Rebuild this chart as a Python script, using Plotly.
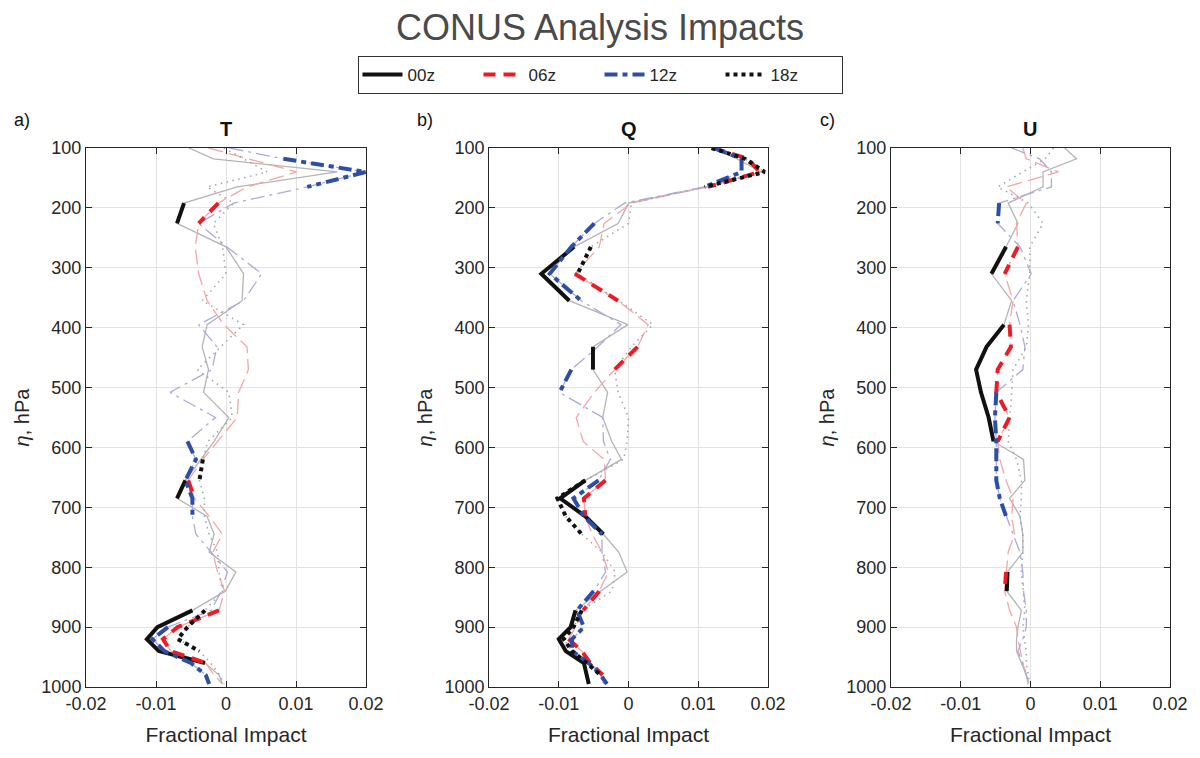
import plotly.graph_objects as go

# ---------------- data ----------------
LEVELS = [100, 118, 140, 165, 192, 226, 265, 310, 355, 395, 432, 470, 508, 550, 590,
          620, 655, 685, 715, 745, 775, 808, 840, 872, 900, 920, 940, 960, 980, 995]

SERIES = ["00z", "06z", "12z", "18z"]
PANEL_TITLES = ["T", "Q", "U"]
PANEL_LETTERS = ["a)", "b)", "c)"]
X_TICKS = [-0.02, -0.01, 0, 0.01, 0.02]
X_TICK_TEXT = ["-0.02", "-0.01", "0", "0.01", "0.02"]
Y_TICKS = [100, 200, 300, 400, 500, 600, 700, 800, 900, 1000]

# --- T ---
T_00Z = [-0.0053, -0.0018, 0.0159, 0.0016, -0.0060, -0.0070, 0.0000, 0.0025, 0.0023, -0.0027,
         -0.0034, -0.0025, -0.0032, 0.0004, -0.0017, -0.0036, -0.0058, -0.0070, -0.0027, -0.0017,
         -0.0024, 0.0014, -0.0001, -0.0048, -0.0098, -0.0113, -0.0096, -0.0030, -0.0010, -0.0005]
T_06Z = [-0.0025, 0.0031, 0.0101, 0.0030, -0.0011, -0.0039, -0.0044, -0.0039, -0.0027, -0.0003,
         0.0030, 0.0032, 0.0018, 0.0016, -0.0012, -0.0033, -0.0054, -0.0045, -0.0024, -0.0005,
         -0.0019, -0.0012, -0.0002, -0.0010, -0.0069, -0.0090, -0.0079, -0.0029, -0.0017, -0.0005]
T_12Z = [0.0005, 0.0082, 0.0200, 0.0116, 0.0011, -0.0039, 0.0001, 0.0051, 0.0025, -0.0039,
         -0.0013, -0.0020, -0.0080, -0.0015, -0.0055, -0.0043, -0.0058, -0.0048, -0.0048, -0.0043,
         -0.0021, 0.0002, -0.0007, -0.0021, -0.0083, -0.0105, -0.0088, -0.0050, -0.0029, -0.0024]
T_18Z = [-0.0003, 0.0025, 0.0059, -0.0027, 0.0011, -0.0018, -0.0005, 0.0000, -0.0034, 0.0025,
         -0.0008, -0.0041, 0.0004, 0.0009, -0.0026, -0.0033, -0.0038, -0.0031, -0.0031, -0.0024,
         -0.0012, -0.0010, -0.0005, -0.0030, -0.0055, -0.0069, -0.0038, -0.0022, -0.0009, -0.0003]
T_00Z_SIG = [0, 0, 0, 0, 1, 1, 0, 0, 0, 0, 0, 0, 0, 0, 0, 0, 1, 1, 0, 0, 0, 0, 0, 1, 1, 1, 1, 1, 0, 0]
T_06Z_SIG = [0, 0, 0, 0, 1, 1, 0, 0, 0, 0, 0, 0, 0, 0, 0, 0, 1, 1, 0, 0, 0, 0, 0, 1, 1, 1, 1, 1, 0, 0]
T_12Z_SIG = [0, 1, 1, 1, 0, 0, 0, 0, 0, 0, 0, 0, 0, 0, 1, 1, 1, 1, 1, 0, 0, 0, 0, 0, 1, 1, 1, 1, 1, 1]
T_18Z_SIG = [0, 0, 0, 0, 0, 0, 0, 0, 0, 0, 0, 0, 0, 0, 0, 1, 1, 0, 0, 0, 0, 0, 0, 1, 1, 1, 1, 0, 0, 0]

# --- Q ---
Q_00Z = [0.0121, 0.0155, 0.0190, 0.0111, 0.0000, -0.0015, -0.0078, -0.0125, -0.0085, -0.0001,
         -0.0051, -0.0051, -0.0030, -0.0037, -0.0024, -0.0010, -0.0062, -0.0098, -0.0062, -0.0036,
         -0.0014, -0.0002, -0.0040, -0.0076, -0.0083, -0.0100, -0.0090, -0.0064, -0.0060, -0.0057]
Q_06Z = [0.0121, 0.0171, 0.0188, 0.0114, 0.0004, -0.0035, -0.0042, -0.0077, -0.0015, 0.0028,
         0.0013, -0.0020, -0.0049, -0.0075, -0.0065, -0.0035, -0.0033, -0.0064, -0.0062, -0.0052,
         -0.0038, -0.0029, -0.0042, -0.0065, -0.0076, -0.0086, -0.0067, -0.0055, -0.0037, -0.0036]
Q_12Z = [0.0123, 0.0162, 0.0162, 0.0109, -0.0006, -0.0049, -0.0082, -0.0113, -0.0068, -0.0011,
         -0.0044, -0.0082, -0.0099, -0.0037, -0.0036, -0.0026, -0.0043, -0.0079, -0.0064, -0.0038,
         -0.0038, -0.0033, -0.0050, -0.0074, -0.0064, -0.0081, -0.0081, -0.0057, -0.0040, -0.0031]
Q_18Z = [0.0119, 0.0167, 0.0195, 0.0109, 0.0004, 0.0000, -0.0054, -0.0073, -0.0014, 0.0035,
         0.0004, -0.0020, -0.0015, 0.0000, -0.0002, -0.0007, -0.0062, -0.0102, -0.0090, -0.0067,
         -0.0038, -0.0019, -0.0024, -0.0067, -0.0079, -0.0093, -0.0081, -0.0060, -0.0040, -0.0033]
Q_00Z_SIG = [0, 0, 0, 0, 0, 0, 1, 1, 1, 0, 1, 1, 0, 0, 0, 0, 1, 1, 1, 1, 0, 0, 0, 1, 1, 1, 1, 1, 1, 1]
Q_06Z_SIG = [1, 1, 1, 1, 0, 0, 0, 1, 1, 0, 1, 1, 0, 0, 0, 0, 1, 1, 1, 0, 0, 0, 1, 1, 0, 1, 1, 1, 1, 0]
Q_12Z_SIG = [1, 1, 1, 1, 0, 1, 1, 1, 1, 0, 0, 1, 1, 0, 0, 0, 1, 1, 1, 1, 0, 0, 1, 1, 1, 1, 1, 1, 1, 1]
Q_18Z_SIG = [1, 1, 1, 1, 0, 0, 1, 1, 0, 0, 0, 0, 0, 0, 0, 0, 1, 1, 1, 1, 0, 0, 0, 1, 1, 1, 1, 1, 1, 0]

# --- U ---
U_00Z = [0.0049, 0.0066, 0.0018, 0.0018, -0.0032, -0.0018, -0.0035, -0.0056, -0.0027, -0.0038,
         -0.0063, -0.0078, -0.0071, -0.0060, -0.0053, -0.0010, -0.0008, -0.0030, -0.0015, -0.0011,
         -0.0011, -0.0033, -0.0034, -0.0013, -0.0018, -0.0020, -0.0020, -0.0013, -0.0006, -0.0003]
U_06Z = [-0.0011, -0.0006, 0.0040, -0.0035, -0.0006, -0.0020, -0.0018, -0.0037, -0.0025, -0.0030,
         -0.0028, -0.0047, -0.0049, -0.0030, -0.0047, -0.0044, -0.0035, -0.0025, -0.0027, -0.0023,
         -0.0032, -0.0035, -0.0037, -0.0030, -0.0020, -0.0018, -0.0015, -0.0011, -0.0006, -0.0003]
U_12Z = [-0.0027, 0.0013, 0.0030, 0.0030, -0.0045, -0.0047, -0.0015, 0.0001, -0.0025, -0.0015,
         -0.0008, -0.0011, -0.0049, -0.0051, -0.0049, -0.0049, -0.0049, -0.0044, -0.0035, -0.0025,
         -0.0015, -0.0011, -0.0010, -0.0006, -0.0006, -0.0011, -0.0018, -0.0011, -0.0006, -0.0002]
U_18Z = [0.0033, 0.0021, -0.0011, -0.0047, -0.0003, 0.0018, -0.0001, -0.0001, -0.0006, -0.0003,
         -0.0006, -0.0025, -0.0027, -0.0030, -0.0032, -0.0020, -0.0013, -0.0013, -0.0015, -0.0011,
         -0.0011, -0.0013, -0.0010, -0.0008, -0.0011, -0.0008, -0.0006, -0.0006, -0.0003, -0.0002]
U_00Z_SIG = [0, 0, 0, 0, 0, 0, 1, 1, 0, 1, 1, 1, 1, 1, 1, 0, 0, 0, 0, 0, 0, 1, 1, 0, 0, 0, 0, 0, 0, 0]
U_06Z_SIG = [0, 0, 0, 0, 0, 0, 1, 1, 0, 1, 1, 1, 1, 1, 1, 0, 0, 0, 0, 0, 0, 1, 1, 0, 0, 0, 0, 0, 0, 0]
U_12Z_SIG = [0, 0, 0, 0, 1, 1, 0, 0, 0, 0, 0, 0, 1, 1, 1, 1, 1, 1, 1, 0, 0, 0, 0, 0, 0, 0, 0, 0, 0, 0]
U_18Z_SIG = [0] * 30

PANEL_DATA = [
    [(T_00Z, T_00Z_SIG), (T_06Z, T_06Z_SIG), (T_12Z, T_12Z_SIG), (T_18Z, T_18Z_SIG)],
    [(Q_00Z, Q_00Z_SIG), (Q_06Z, Q_06Z_SIG), (Q_12Z, Q_12Z_SIG), (Q_18Z, Q_18Z_SIG)],
    [(U_00Z, U_00Z_SIG), (U_06Z, U_06Z_SIG), (U_12Z, U_12Z_SIG), (U_18Z, U_18Z_SIG)],
]

# ---------------- styles ----------------
FAINT = {
    "00z": dict(color="#b4b4b4", width=1.3, dash="solid"),
    "06z": dict(color="#f5a5a5", width=1.3, dash="15px,6px"),
    "12z": dict(color="#a8acdc", width=1.3, dash="14px,5px,3px,5px"),
    "18z": dict(color="#a6a6a6", width=1.6, dash="1.5px,4.5px"),
}
THICK = {
    "00z": dict(color="#111111", width=4, dash="solid"),
    "06z": dict(color="#ec1c24", width=4, dash="12px,8px"),
    "12z": dict(color="#2e4ea6", width=4, dash="13px,5px,5px,5px"),
    "18z": dict(color="#111111", width=4, dash="4px,4px"),
}

FONT = "Liberation Sans, Arial, Helvetica, sans-serif"
TXT = "#262626"

FIG_W, FIG_H = 1200, 758

DOMAINS = [[0.0, 0.2583], [0.3718, 0.6292], [0.7426, 1.0]]

fig = go.Figure()

for p in range(3):
    xa = "x" if p == 0 else f"x{p+1}"
    ya = "y" if p == 0 else f"y{p+1}"
    for s, (vals, sig) in zip(SERIES, PANEL_DATA[p]):
        fig.add_trace(go.Scatter(x=vals, y=LEVELS, mode="lines", line=FAINT[s],
                                 xaxis=xa, yaxis=ya, showlegend=False, hoverinfo="skip"))
    for s, (vals, sig) in zip(SERIES, PANEL_DATA[p]):
        xs = [v if m else None for v, m in zip(vals, sig)]
        fig.add_trace(go.Scatter(x=xs, y=LEVELS, mode="lines", line=THICK[s],
                                 xaxis=xa, yaxis=ya, name=s, legendgroup=s,
                                 showlegend=(p == 0), connectgaps=False))

axis_common = dict(showline=True, linecolor=TXT, linewidth=1, mirror="allticks",
                   ticks="inside", ticklen=6, tickcolor=TXT, showgrid=True,
                   gridcolor="#e2e2e2", gridwidth=1, zeroline=False,
                   tickfont=dict(family=FONT, size=18, color=TXT))

layout = dict(
    width=FIG_W, height=FIG_H,
    paper_bgcolor="white", plot_bgcolor="white",
    margin=dict(l=86, r=30, t=148, b=71),
    font=dict(family=FONT, color=TXT),
    title=dict(text="CONUS Analysis Impacts", x=0.5, xref="container", xanchor="center",
               y=1 - 27 / FIG_H, yref="container", yanchor="middle",
               font=dict(family=FONT, size=36, color="#4a4a4a")),
    legend=dict(orientation="h", x=0.5, xanchor="center", xref="container",
                y=1 - 56 / FIG_H, yref="container", yanchor="top",
                bordercolor="#333333", borderwidth=1, bgcolor="white",
                font=dict(family=FONT, size=17, color=TXT),
                entrywidth=66, itemwidth=40),
    annotations=[],
)

for p in range(3):
    xk = "xaxis" if p == 0 else f"xaxis{p+1}"
    yk = "yaxis" if p == 0 else f"yaxis{p+1}"
    xanchor_name = "y" if p == 0 else f"y{p+1}"
    yanchor_name = "x" if p == 0 else f"x{p+1}"
    layout[xk] = dict(axis_common, domain=DOMAINS[p], anchor=xanchor_name,
                      range=[-0.02, 0.02], tickvals=X_TICKS, ticktext=X_TICK_TEXT,
                      title=dict(text="Fractional Impact", standoff=14,
                                 font=dict(family=FONT, size=21, color=TXT)))
    layout[yk] = dict(axis_common, domain=[0, 1], anchor=yanchor_name,
                      range=[1000, 100], tickvals=Y_TICKS,
                      title=dict(text="<i>η</i>, hPa", standoff=6,
                                 font=dict(family=FONT, size=20, color=TXT)))
    layout["annotations"].append(dict(
        text=f"<b>{PANEL_TITLES[p]}</b>", xref="paper", yref="paper",
        x=(DOMAINS[p][0] + DOMAINS[p][1]) / 2, y=1, yshift=19, xanchor="center",
        yanchor="middle", showarrow=False, font=dict(family=FONT, size=20, color="#111111")))
    layout["annotations"].append(dict(
        text=PANEL_LETTERS[p], xref="paper", yref="paper",
        x=DOMAINS[p][0] - 0.059, y=1, yshift=28, xanchor="center",
        yanchor="middle", showarrow=False, font=dict(family=FONT, size=18, color="#111111")))

fig.update_layout(layout)
# remove the default page margin so the 1200x758 figure fills the window exactly
fig.write_html("out.html", config={"displayModeBar": False},
               post_script="document.body.style.margin='0px';document.body.style.overflow='hidden';")
